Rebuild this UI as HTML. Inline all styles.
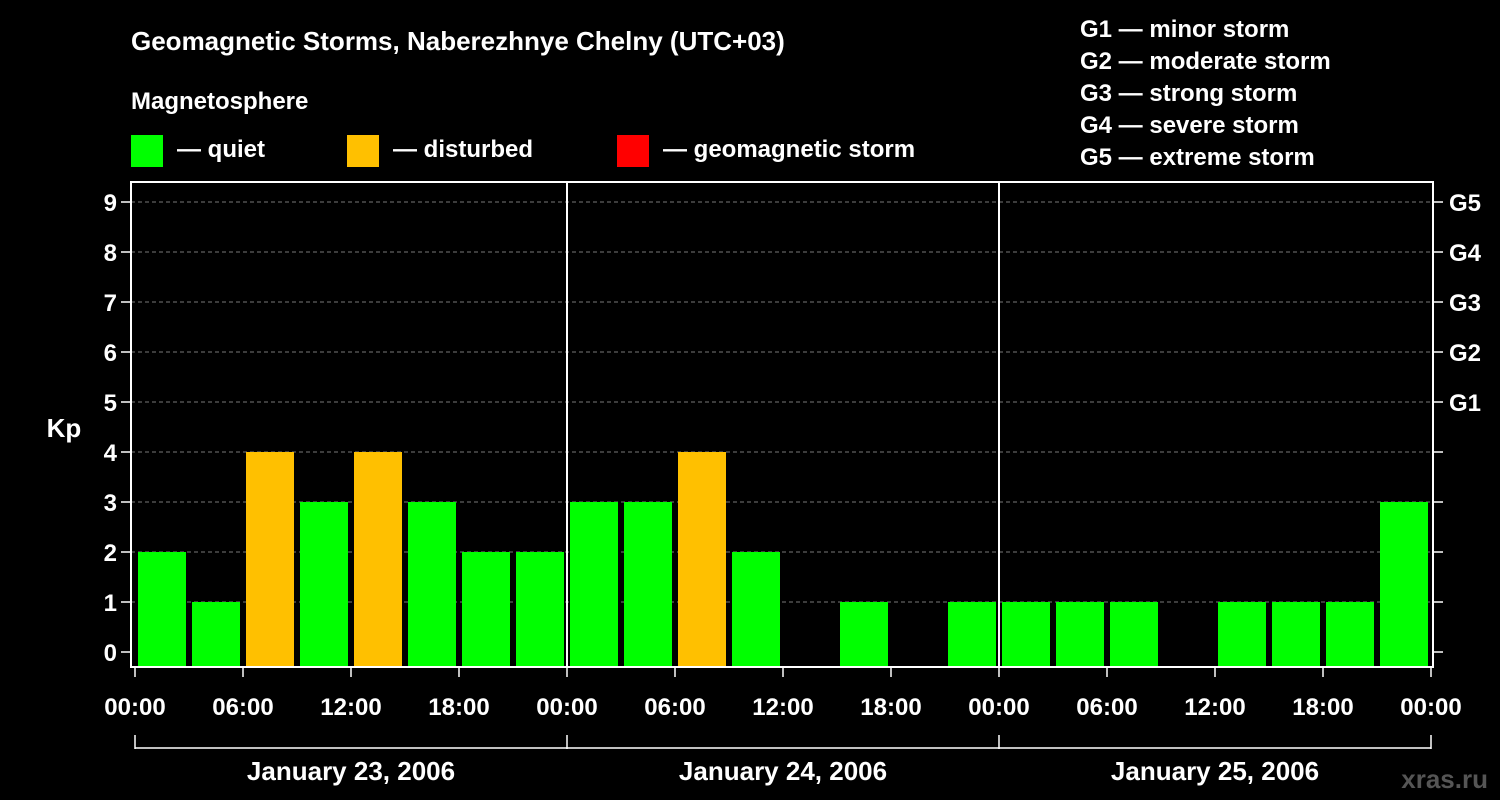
<!DOCTYPE html>
<html><head><meta charset="utf-8"><style>
html,body{margin:0;padding:0;background:#000;}
svg{display:block;font-family:"Liberation Sans",Arial,sans-serif;font-weight:bold;}
</style></head><body>
<svg id="chart" width="1500" height="800" xmlns="http://www.w3.org/2000/svg">
<rect width="1500" height="800" fill="#000"/>
<text x="131" y="50" fill="#fff" font-size="26">Geomagnetic Storms, Naberezhnye Chelny (UTC+03)</text>
<text x="131" y="109" fill="#fff" font-size="24">Magnetosphere</text>
<g><rect x="131" y="135" width="32" height="32" fill="#00ff00"/><text x="177" y="157" fill="#fff" font-size="24">— quiet</text></g>
<g><rect x="347" y="135" width="32" height="32" fill="#ffc000"/><text x="393" y="157" fill="#fff" font-size="24">— disturbed</text></g>
<g><rect x="617" y="135" width="32" height="32" fill="#ff0000"/><text x="663" y="157" fill="#fff" font-size="24">— geomagnetic storm</text></g>
<g fill="#fff" font-size="24">
<text x="1080" y="37">G1 — minor storm</text>
<text x="1080" y="69">G2 — moderate storm</text>
<text x="1080" y="101">G3 — strong storm</text>
<text x="1080" y="133">G4 — severe storm</text>
<text x="1080" y="165">G5 — extreme storm</text>
</g>
<text x="64" y="437" fill="#fff" font-size="26" text-anchor="middle">Kp</text>
<text x="1488" y="788" fill="#555" font-size="26" text-anchor="end">xras.ru</text>
<g id="grid"></g>
<g id="bars"></g>
<g id="axes"></g>
</svg>
<script>
const days = ["January 23, 2006","January 24, 2006","January 25, 2006"];
const hourLabels = ["00:00","06:00","12:00","18:00"];
const kpValues = [2,1,4,3,4,3,2,2, 3,3,4,2,0,1,0,1, 1,1,1,0,1,1,1,3];
const yTicks = [0,1,2,3,4,5,6,7,8,9];
const gLabels = {5:"G1",6:"G2",7:"G3",8:"G4",9:"G5"};
const NS="http://www.w3.org/2000/svg";
const X0=135, DAYW=432, PL=131, PR=1433, PT=182, PB=667;
const slotW = DAYW/8;
function xPos(i){return X0+i*slotW;}
function yPos(v){return 652-v*50;}
function mk(tag,attrs,parent){const e=document.createElementNS(NS,tag);for(const k in attrs)e.setAttribute(k,attrs[k]);parent.appendChild(e);return e;}
const grid=document.getElementById('grid'), bars=document.getElementById('bars'), axes=document.getElementById('axes');
yTicks.forEach(v=>{
  const y=yPos(v);
  if(v>0){const l=mk('line',{x1:PL,x2:PR,y1:y,y2:y,stroke:'#777','stroke-dasharray':'4,3','stroke-width':1},grid);
  
  }
  const t=mk('line',{x1:PL-10,x2:PL,y1:y,y2:y,stroke:'#fff','stroke-width':1.5},axes);
  
  
  const t2=mk('line',{x1:PR,x2:PR+10,y1:y,y2:y,stroke:'#fff','stroke-width':1.5},axes);
  
  
  const tx=mk('text',{x:117,y:y+9,fill:'#fff','font-size':24,'text-anchor':'end'},axes);
  tx.textContent=v;
  
  
  if(gLabels[v]){const g=mk('text',{x:1449,y:y+9,fill:'#fff','font-size':24},axes);g.textContent=gLabels[v];
  
  }
});
kpValues.forEach((v,i)=>{
  if(v<=0)return;
  const col=v>=5?'#ff0000':(v>=4?'#ffc000':'#00ff00');
  const r=mk('rect',{x:xPos(i)+3,y:yPos(v),width:slotW-6,height:PB-yPos(v),fill:col},bars);
  
  
});
const frame=mk('rect',{x:PL,y:PT,width:PR-PL,height:PB-PT,fill:'none',stroke:'#fff','stroke-width':2},axes);


for(let d=1;d<days.length;d++){
  const x=X0+d*DAYW;
  const l=mk('line',{x1:x,x2:x,y1:PT,y2:PB,stroke:'#fff','stroke-width':2},axes);
  
  
}
for(let d=0;d<=days.length;d++){
  for(let h=0;h<4;h++){
    if(d===days.length&&h>0)break;
    const x=X0+d*DAYW+h*DAYW/4;
    const t=mk('line',{x1:x,x2:x,y1:PB,y2:PB+10,stroke:'#fff','stroke-width':1.5},axes);
    
    
    const tx=mk('text',{x:x,y:715,fill:'#fff','font-size':24,'text-anchor':'middle'},axes);
    tx.textContent=hourLabels[h];
    
    
  }
  const bx=X0+d*DAYW;
  const bt=mk('line',{x1:bx,x2:bx,y1:735,y2:749,stroke:'#fff','stroke-width':1.5},axes);
  
  
}
const bl=mk('line',{x1:X0,x2:X0+days.length*DAYW,y1:748,y2:748,stroke:'#fff','stroke-width':1.5},axes);


days.forEach((d,i)=>{
  const t=mk('text',{x:X0+i*DAYW+DAYW/2,y:780,fill:'#fff','font-size':26,'text-anchor':'middle'},axes);
  t.textContent=d;
  
  
});
</script>
</body></html>
